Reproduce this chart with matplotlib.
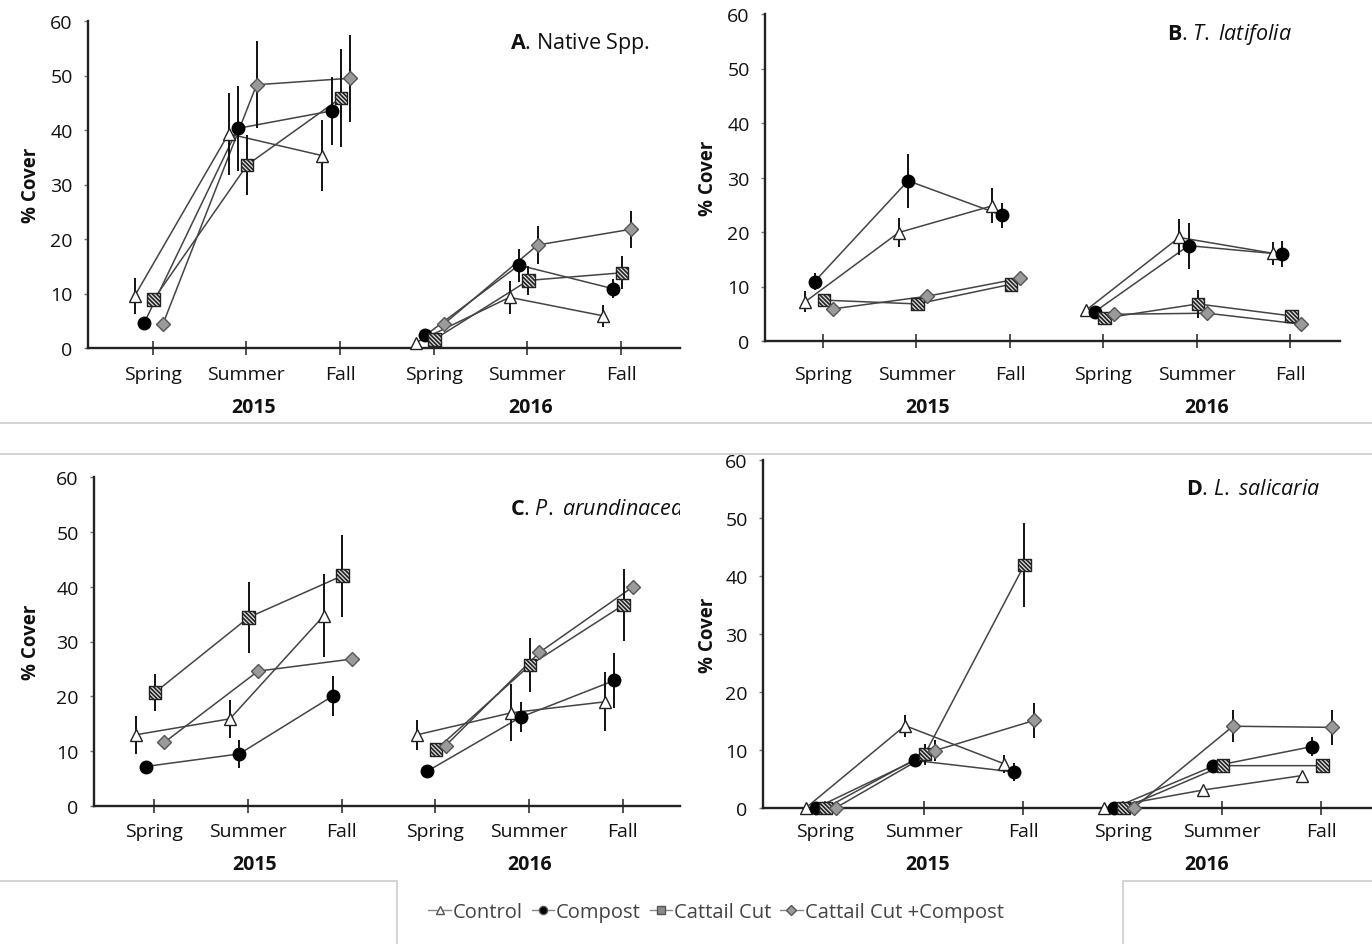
import numpy as np
import matplotlib
matplotlib.use('Agg')
import matplotlib.pyplot as plt
from matplotlib.lines import Line2D
from matplotlib.transforms import blended_transform_factory

plt.rcParams['font.family'] = ['Open Sans', 'DejaVu Sans']
plt.rcParams['mathtext.fontset'] = 'custom'
plt.rcParams['mathtext.rm'] = 'Open Sans'
plt.rcParams['mathtext.it'] = 'Open Sans:italic'
plt.rcParams['mathtext.bf'] = 'Open Sans:bold'
plt.rcParams['hatch.linewidth'] = 1.2

# categories
seasons = ['Spring', 'Summer', 'Fall', 'Spring', 'Summer', 'Fall']
years = ['2015', '2016']
treatments = ['Control', 'Compost', 'Cattail Cut', 'Cattail Cut +Compost']

# % cover, rows = treatments (Control, Compost, Cattail Cut, Cattail Cut +Compost)
native_mean = [[9.6, 39.3, 35.3, 1.0, 9.3, 5.9],
               [4.6, 40.3, 43.5, 2.3, 15.2, 10.9],
               [8.9, 33.6, 45.9, 1.6, 12.4, 13.8],
               [4.4, 48.3, 49.5, 4.4, 18.9, 21.8]]
native_err = [[3.3, 7.5, 6.5, 0, 3.0, 2.0],
              [0, 7.8, 6.3, 0, 3.0, 1.7],
              [0, 5.5, 9.0, 0, 2.6, 3.0],
              [0, 8.0, 8.0, 0, 3.5, 3.4]]

typha_mean = [[7.2, 19.9, 24.8, 5.6, 19.0, 16.1],
              [10.9, 29.4, 23.1, 5.4, 17.5, 15.9],
              [7.5, 6.8, 10.4, 4.2, 6.8, 4.6],
              [5.9, 8.2, 11.5, 4.9, 5.1, 3.1]]
typha_err = [[1.9, 2.7, 3.2, 0, 3.3, 2.1],
             [1.5, 5.0, 2.3, 0, 4.2, 2.4],
             [0, 0, 0, 0, 2.5, 0],
             [0, 0, 0.7, 0, 1.0, 0]]

phalaris_mean = [[13.0, 15.9, 34.7, 13.0, 17.0, 19.0],
                 [7.2, 9.5, 20.1, 6.3, 16.2, 22.9],
                 [20.7, 34.4, 42.0, 10.3, 25.7, 36.7],
                 [11.6, 24.6, 26.8, 11.0, 28.0, 40.0]]
phalaris_err = [[3.5, 3.5, 7.6, 2.7, 5.2, 5.4],
                [0.5, 2.5, 3.6, 0.5, 2.7, 5.0],
                [3.4, 6.5, 7.5, 0, 5.0, 6.6],
                [0, 0, 1.0, 0, 0, 0]]

lythrum_mean = [[0, 14.2, 7.6, 0, 3.1, 5.6],
                [0, 8.2, 6.2, 0, 7.2, 10.6],
                [0, 9.3, 41.9, 0, 7.3, 7.3],
                [0, 9.9, 15.1, 0, 14.1, 13.9]]
lythrum_err = [[0, 1.9, 1.5, 0, 0, 0],
               [0, 0, 1.6, 0, 0, 1.6],
               [0, 1.8, 7.3, 0, 0, 0],
               [0, 1.8, 3.0, 0, 2.8, 3.0]]

W, H = 1372, 945
fig = plt.figure(figsize=(W / 100, H / 100), dpi=100)

offsets = [-0.19, -0.09, 0.01, 0.11]
styles = [dict(marker='^', ms=9, mfc='white', mec='#222222'),
          dict(marker='o', ms=9, mfc='black', mec='black'),
          dict(marker='s', ms=9, mfc='#e0e0e0', mec='#222222'),
          dict(marker='D', ms=7.5, mfc='#9a9a9a', mec='#555555')]


def draw_panel(mean, err, title, box, xlim, yr_x, lab_y, yr_y, title_xy, ylab_x):
    l, r, b, t = box
    ax = fig.add_axes([l / W, 1 - b / H, (r - l) / W, (b - t) / H])
    x0 = np.arange(len(seasons))
    for k in range(len(treatments)):
        xs = x0 + offsets[k]
        m = np.array(mean[k])
        e = np.array(err[k])
        for yr in range(len(years)):
            sl = slice(3 * yr, 3 * yr + 3)
            ax.plot(xs[sl], m[sl], color='#444444', lw=1.1, zorder=2)
        ax.errorbar(xs, m, yerr=e, fmt='none', ecolor='#111111',
                    elinewidth=1.4, capsize=0, zorder=3, clip_on=False)
        st = styles[k]
        if k == 2:
            ax.scatter(xs, m, s=st['ms'] ** 2, marker='s', facecolor=st['mfc'],
                       edgecolor=st['mec'], hatch='\\' * 8, linewidths=1.0,
                       zorder=4, clip_on=False)
        else:
            ax.plot(xs, m, ls='none', marker=st['marker'], ms=st['ms'],
                    mfc=st['mfc'], mec=st['mec'], mew=1.0, zorder=4, clip_on=False)

    ax.set_xlim(*xlim)
    ax.set_ylim(0, 60)
    ax.set_yticks(range(0, 61, 10))
    ax.set_xticks(x0)
    ax.set_xticklabels([''] * len(seasons))
    for s in ['top', 'right']:
        ax.spines[s].set_visible(False)
    for s in ['left', 'bottom']:
        ax.spines[s].set_color('#222222')
        ax.spines[s].set_linewidth(1.7)
    ax.tick_params(axis='y', direction='out', length=3, width=1, color='#777777',
                   labelsize=14, labelcolor='#111111', pad=8)
    ax.tick_params(axis='x', direction='inout', length=10, width=1.2, color='#333333')

    trans = blended_transform_factory(ax.transData, fig.transFigure)
    for xp, lab in zip(x0, seasons):
        ax.text(xp, 1 - lab_y / H, lab, transform=trans, ha='center', va='center',
                fontsize=14, color='#111111', clip_on=False)
    for xp, yl in zip(yr_x, years):
        ax.text(xp, 1 - yr_y / H, yl, transform=trans, ha='center', va='center',
                fontsize=14, fontweight='bold', color='#111111', clip_on=False)

    ax.text(title_xy[0] / W, 1 - title_xy[1] / H, title, transform=fig.transFigure,
            ha='left', va='center', fontsize=15.5, color='#111111', clip_on=True)
    fig.text(ylab_x / W, 1 - (b + t) / 2 / H, '% Cover', rotation=90, ha='center',
             va='center', fontsize=13.5, fontweight='bold', color='#111111')
    return ax


draw_panel(native_mean, native_err, r'$\mathbf{A}$. Native Spp.',
           (88, 680, 349, 22), (-0.69, 5.63), [1.08, 4.03], 375, 408, (510, 43), 31)
draw_panel(typha_mean, typha_err, r'$\mathbf{B}$. $\mathit{T.}$ $\mathit{latifolia}$',
           (765, 1340, 342, 15), (-0.62, 5.53), [1.12, 4.10], 375, 408, (1167, 35), 708)
draw_panel(phalaris_mean, phalaris_err, r'$\mathbf{C}$. $\mathit{P.}$ $\mathit{arundinacea}$',
           (94, 680, 807, 478), (-0.64, 5.61), [1.07, 4.01], 832, 865, (510, 510), 31)
draw_panel(lythrum_mean, lythrum_err, r'$\mathbf{D}$. $\mathit{L.}$ $\mathit{salicaria}$',
           (763, 1372, 809, 461), (-0.62, 5.51), [1.04, 3.85], 832, 865, (1186, 490), 708)

# legend
handles = []
for k in range(len(treatments)):
    st = styles[k]
    handles.append(Line2D([], [], color='#888888', lw=1.0, marker=st['marker'],
                          ms=st['ms'] * 0.65, mfc=st['mfc'] if k != 2 else '#8a8a8a',
                          mec='#555555'))
fig.legend(handles, treatments, loc='center', bbox_to_anchor=(716 / W, 1 - 913 / H),
           ncol=4, frameon=False, handlelength=1.1, handletextpad=0.1,
           columnspacing=0.45, fontsize=14.5, labelcolor='#444444')

# panel separators from the composite
sep = '#cccccc'
for yp in [424, 455]:
    fig.add_artist(Line2D([0, 1], [1 - yp / H] * 2, transform=fig.transFigure, color=sep, lw=1.2))
fig.add_artist(Line2D([0, 397 / W, 397 / W], [1 - 882 / H, 1 - 882 / H, 0],
                      transform=fig.transFigure, color=sep, lw=1.2))
fig.add_artist(Line2D([1, 1123 / W, 1123 / W], [1 - 882 / H, 1 - 882 / H, 0],
                      transform=fig.transFigure, color=sep, lw=1.2))

fig.savefig('out.png', dpi=100)
